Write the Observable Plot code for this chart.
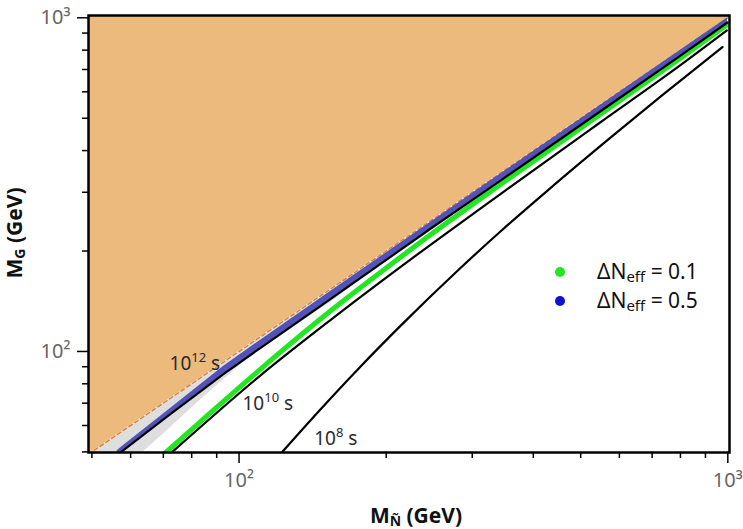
<!DOCTYPE html>
<html><head><meta charset="utf-8">
<script src="https://cdn.jsdelivr.net/npm/d3@7"></script>
<script src="https://cdn.jsdelivr.net/npm/@observablehq/plot@0.6"></script>
<style>body{margin:0;background:#fff;font-family:"Noto Sans",sans-serif;}</style>
</head><body><div id="chart"></div>
<script>
// ---- tick data ----
const xMinorTicks = [50,60,70,80,90,200,300,400,500,600,700,800,900];
const xMajorTicks = [100,1000];
const yMinorTicks = [50,60,70,80,90,200,300,400,500,600,700,800,900];
const yMajorTicks = [100,1000];
const tickText = {100: "10²", 1000: "10³"};

// ---- kinematic boundary M_G = M_N (excluded region above) ----
const diagX = [49.2, 1008];

// ---- grey region (between boundary and lower edge) ----
const greyX     = [49.2, 63.7, 71.3, 84.5, 105.5, 153.8, 213.9];
const greyLower = [45,   50,   58,   72.8, 96.6,  140.3, 201.7];

// ---- lifetime contour 10^12 s ----
const life12X = [57.4, 71, 92.9, 110.5, 153.8, 246.4, 342.6, 548.9, 800, 998];
const life12Y = [50, 63.6, 85.5, 102.4, 143.5, 233.2, 325.3, 524.8, 770.2, 968];

// ---- ΔNeff = 0.5 band (blue): lower edge ~ 10^12 contour, upper edge ----
const blueX     = [56.3, 57.6, 71, 92.9, 110.5, 153.8, 246.4, 342.6, 548.9, 800, 998];
const blueLower = [49,   50.2, 63.6, 85.5, 102.4, 143.5, 233.2, 325.3, 524.8, 770.2, 968];
const blueUpper = [50.4, 51.8, 66.0, 90.1, 107.9, 151.2, 243.9, 340.2, 547, 799, 998];

// ---- ΔNeff = 0.1 band (green) ----
const greenX = [71.0, 83.3, 100.6, 121.5, 153.8, 194.6, 246.4, 342.6, 548.9, 800, 998];
const greenY = [50, 61.5, 78.5, 99.5, 132.2, 172.5, 223.7, 316.5, 514.1, 757, 955];

// ---- lifetime contour 10^10 s ----
const life10X = [73, 110.5, 153.8, 246.4, 342.6, 548.9, 800, 995];
const life10Y = [50, 84.7, 124.2, 208.8, 296.4, 486.4, 721.3, 916];

// ---- lifetime contour 10^8 s ----
const life8X = [122.6, 146.7, 177.1, 213.9, 283.8, 342.6, 433.6, 575.4, 728.2, 975.4];
const life8Y = [50, 67.0, 90.0, 119.3, 177.9, 228.8, 308.8, 437.2, 580.2, 817.2];

// ---- contour labels ----
const contourLabels = [
  {base: "10", exp: "12", x: 81.4, y: 87.7},
  {base: "10", exp: "10", x: 114.8, y: 66.6},
  {base: "10", exp: "8",  x: 158.1, y: 52.3}
];
const legendItems = [
  {label: "0.1", color: "#22e622"},
  {label: "0.5", color: "#1010d0"}
];

const zip = (xs, ys) => xs.map((x, i) => ({x, y: ys[i]}));
const diag = diagX.map(x => ({x}));
const grey = greyX.map((x, i) => ({x, lo: greyLower[i]}));
const blue = blueX.map((x, i) => ({x, lo: blueLower[i], hi: blueUpper[i]}));

const W = 743, H = 529;
const plot = Plot.plot({
  width: W, height: H,
  marginLeft: 88, marginRight: 14, marginTop: 15, marginBottom: 77,
  style: {fontFamily: "'Noto Sans', sans-serif", background: "white"},
  x: {type: "log", domain: [49.2, 1008]},
  y: {type: "log", domain: [49.8, 1016]},
  marks: [
    Plot.areaY(diag, {x: "x", y1: d => d.x, y2: () => 2000, fill: "#ebba7c", clip: true}),
    Plot.areaY(grey, {x: "x", y1: "lo", y2: d => d.x, fill: "#dedede", clip: true}),
    Plot.line(diag, {x: "x", y: "x", stroke: "#e07a28", strokeWidth: 1.3, strokeDasharray: "4,3", clip: true}),
    Plot.areaY(blue, {x: "x", y1: "lo", y2: "hi", fill: "#5252b8", clip: true}),
    Plot.line(zip(greenX, greenY), {x: "x", y: "y", stroke: "#22e622", strokeWidth: 5, curve: "monotone-x", clip: true}),
    Plot.line(zip(life12X, life12Y), {x: "x", y: "y", stroke: "black", strokeWidth: 2.2, clip: true}),
    Plot.line(zip(life10X, life10Y), {x: "x", y: "y", stroke: "black", strokeWidth: 2.2, curve: "monotone-x", clip: true}),
    Plot.line(zip(life8X, life8Y), {x: "x", y: "y", stroke: "black", strokeWidth: 2.2, curve: "monotone-x", clip: true}),
    Plot.axisX({ticks: xMinorTicks, tickSize: 6, tickFormat: () => "", label: null, stroke: "black", strokeWidth: 1.5}),
    Plot.axisX({ticks: xMajorTicks, tickSize: 11, tickPadding: 9, tickFormat: d => tickText[d], label: null,
                stroke: "black", strokeWidth: 1.5, fill: "#666", fontSize: 20}),
    Plot.axisY({ticks: yMinorTicks, tickSize: 6, tickFormat: () => "", label: null, stroke: "black", strokeWidth: 1.5}),
    Plot.axisY({ticks: yMajorTicks, tickSize: 11, tickPadding: 7, tickFormat: d => tickText[d], label: null,
                stroke: "black", strokeWidth: 1.5, fill: "#666", fontSize: 20}),
    Plot.frame({stroke: "black", strokeWidth: 2.5})
  ]
});
document.getElementById("chart").appendChild(plot);

const svg = d3.select(plot);
const xs = plot.scale("x"), ys = plot.scale("y");

// contour labels
contourLabels.forEach(l => {
  const t = svg.append("text")
    .attr("x", xs.apply(l.x)).attr("y", ys.apply(l.y))
    .attr("text-anchor", "middle").attr("font-size", 19).attr("fill", "#2a2a2a");
  t.append("tspan").text(l.base);
  t.append("tspan").attr("font-size", 13).attr("dy", -8).text(l.exp);
  t.append("tspan").attr("dy", 8).text(" s");
});

// axis titles
const xt = svg.append("text").attr("x", 416).attr("y", 523).attr("text-anchor", "middle")
  .attr("font-size", 21).attr("font-weight", "bold").attr("fill", "#111");
xt.append("tspan").text("M");
xt.append("tspan").attr("font-size", 14).attr("dy", 3).text("Ñ");
xt.append("tspan").attr("dy", -3).text(" (GeV)");

const yt = svg.append("text").attr("transform", "translate(22,233) rotate(-90)").attr("text-anchor", "middle")
  .attr("font-size", 21).attr("font-weight", "bold").attr("fill", "#111");
yt.append("tspan").text("M");
yt.append("tspan").attr("font-size", 14).attr("dy", 3).text("G");
yt.append("tspan").attr("dy", -3).text(" (GeV)");

// legend
legendItems.forEach((it, i) => {
  const cy = 272 + i * 29;
  svg.append("circle").attr("cx", 560).attr("cy", cy).attr("r", 5).attr("fill", it.color);
  const t = svg.append("text").attr("x", 597).attr("y", cy + 7).attr("text-anchor", "start")
    .attr("font-size", 21).attr("fill", "#111");
  t.append("tspan").text("ΔN");
  t.append("tspan").attr("font-size", 15).attr("dy", 3).text("eff");
  t.append("tspan").attr("dy", -3).text(" = " + it.label);
});
</script></body></html>
